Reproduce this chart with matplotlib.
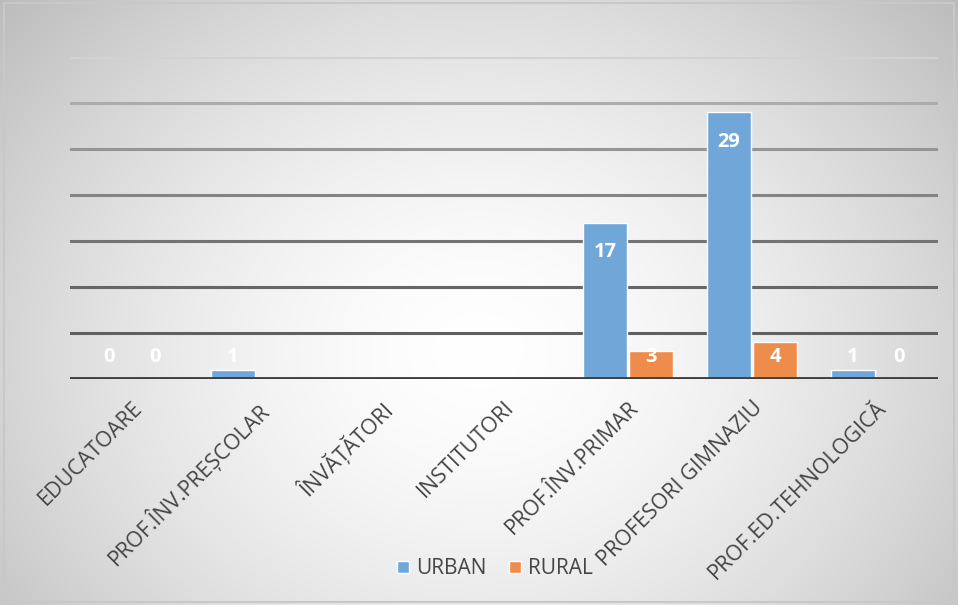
import matplotlib.pyplot as plt
from matplotlib.patches import Patch, Rectangle
import numpy as np

categories = ["EDUCATOARE", "PROF.ÎNV.PREȘCOLAR", "ÎNVĂȚĂTORI", "INSTITUTORI",
              "PROF.ÎNV.PRIMAR", "PROFESORI GIMNAZIU", "PROF.ED.TEHNOLOGICĂ"]
urban = [0, 1, np.nan, np.nan, 17, 29, 1]
rural = [0, np.nan, np.nan, np.nan, 3, 4, 0]
series_names = ["URBAN", "RURAL"]
grid_levels = [5, 10, 15, 20, 25, 30, 35]

BLUE = "#70A7D8"
ORANGE = "#EE8C4C"
TXT = "#454545"

plt.rcParams['font.family'] = ['Open Sans', 'DejaVu Sans']

fig = plt.figure(figsize=(9.58, 6.05), dpi=100)

# radial gray background like the Excel chart area
bg = fig.add_axes([0, 0, 1, 1], zorder=-10)
yy, xx = np.mgrid[0:1:300j, 0:1:480j]
r = np.sqrt(((xx - 0.5) / 0.72) ** 2 + ((yy - 0.58) / 0.95) ** 2)
shade = 1.0 - 0.3 * np.clip(r, 0, 1) ** 1.6
bg.imshow(np.dstack([shade] * 3), extent=[0, 1, 0, 1], aspect='auto', origin='upper')
bg.add_patch(Rectangle((0.004, 0.005), 0.992, 0.99, fill=False, ec="#c8c8c8", lw=1.5))
bg.set_xlim(0, 1)
bg.set_ylim(0, 1)
bg.axis('off')

ax = fig.add_axes([70 / 958, 1 - 379 / 605, 868 / 958, 322 / 605])
ax.set_facecolor('none')

x = np.arange(len(categories))
w = 0.36
off = 0.185

# gridlines, lighter toward the top
grid_cols = ["#606060", "#666666", "#737373", "#848484", "#959595", "#acacac", "#d2d2d2"]
for lvl, c in zip(grid_levels, grid_cols):
    ax.axhline(lvl - 0.15, color="white", lw=1.5, alpha=0.6, zorder=1)
    ax.axhline(lvl, color=c, lw=2.2, zorder=1)

ax.bar(x - off, np.nan_to_num(urban), w, color=BLUE, edgecolor="white", lw=1.0, zorder=3)
ax.bar(x + off, np.nan_to_num(rural), w, color=ORANGE, edgecolor="white", lw=1.0, zorder=3)

ax.axhline(0, color="#3f3f3f", lw=3.5, zorder=4)

for vals, dx in [(urban, -off), (rural, off)]:
    for i, v in enumerate(vals):
        if np.isnan(v):
            continue
        ypos = max(v - 3.2, 2.4)
        ax.text(i + dx, ypos, f"{int(v)}", ha='center', va='center', color="white",
                fontsize=14.5, fontweight='bold', zorder=5)

ax.set_xlim(-0.5, len(categories) - 0.5)
ax.set_ylim(0, 35)
ax.set_yticks([])
ax.set_xticks(x)
ax.set_xticklabels(categories, rotation=45, ha='right', rotation_mode='anchor',
                   fontsize=15.5, color=TXT)
ax.tick_params(axis='x', length=0, pad=13)
for s in ax.spines.values():
    s.set_visible(False)

handles = [Patch(facecolor=BLUE, edgecolor="white"), Patch(facecolor=ORANGE, edgecolor="white")]
fig.legend(handles, series_names, loc='center', bbox_to_anchor=(495 / 958, 1 - 569 / 605),
           ncol=2, frameon=False, fontsize=15, handlelength=0.55, handleheight=0.55,
           handletextpad=0.35, columnspacing=1.1, labelcolor=TXT)

fig.savefig("out.png", dpi=100)
